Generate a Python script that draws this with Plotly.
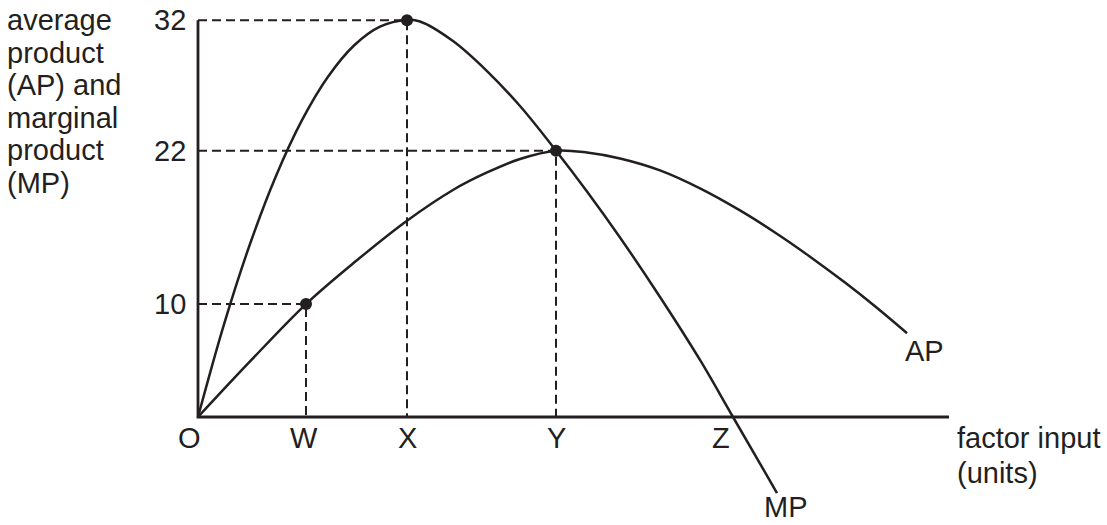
import plotly.graph_objects as go

# ---- data (chart units) ----
input_labels = ["O", "W", "X", "Y", "Z"]
input_levels = [0.0, 4.32, 8.36, 14.32, 21.4]
value_labels = ["10", "22", "32"]
value_levels = [9.11, 21.48, 32.0]

mp_x = [0.0, 1.04, 2.08, 3.12, 4.16, 5.2, 6.24, 7.28, 8.36, 8.88, 10.2, 11.56, 12.88,
        14.32, 15.56, 16.88, 18.48, 20.08, 21.4, 23.16]
mp_y = [0.0, 7.47, 13.95, 19.44, 23.94, 27.44, 29.96, 31.48, 32.02, 31.9, 30.32, 27.9, 25.08,
        21.48, 18.19, 14.48, 9.68, 4.6, 0.0, -6.13]

ap_x = [0.0, 2.08, 4.32, 6.32, 8.36, 10.2, 11.56, 12.88, 14.32, 15.56, 16.88,
        18.48, 20.08, 21.68, 23.08, 24.48, 25.88, 27.08, 28.36]
ap_y = [0.0, 4.48, 9.11, 12.58, 15.83, 18.31, 19.72, 20.81, 21.48, 21.33, 20.85,
        19.89, 18.44, 16.66, 14.88, 12.93, 10.84, 8.93, 6.76]

x_axis_end = 30.04
y_axis_end = 32.0

ink = "#231f20"
font = "Liberation Sans, Arial, Helvetica, sans-serif"
fs = 29

fig = go.Figure()

# dashed guide lines (W,10), (X,32), (Y,22)
guides = [(input_levels[1], value_levels[0]), (input_levels[2], value_levels[2]),
          (input_levels[3], value_levels[1])]
for gx, gy in guides:
    fig.add_trace(go.Scatter(x=[0, gx, gx], y=[gy, gy, 0], mode="lines",
                             line=dict(color=ink, width=2, dash="9px,5px"),
                             hoverinfo="skip", showlegend=False, cliponaxis=False))

# axes
fig.add_trace(go.Scatter(x=[0, 0, x_axis_end], y=[y_axis_end, 0, 0], mode="lines",
                         line=dict(color=ink, width=2.8), hoverinfo="skip",
                         showlegend=False, cliponaxis=False))

# curves
fig.add_trace(go.Scatter(x=mp_x, y=mp_y, mode="lines", name="MP",
                         line=dict(color=ink, width=2.5, shape="spline", smoothing=1.0),
                         showlegend=False, cliponaxis=False))
fig.add_trace(go.Scatter(x=ap_x, y=ap_y, mode="lines", name="AP",
                         line=dict(color=ink, width=2.5, shape="spline", smoothing=1.0),
                         showlegend=False, cliponaxis=False))

# points
fig.add_trace(go.Scatter(x=[g[0] for g in guides], y=[g[1] for g in guides],
                         mode="markers", marker=dict(color=ink, size=12),
                         showlegend=False, cliponaxis=False))

anns = []
# value labels on y axis
for lab, lv in zip(value_labels, value_levels):
    anns.append(dict(x=-0.4, y=lv, text=lab, xanchor="right", yanchor="middle"))
# input labels below x axis
lab_x = {"O": -0.36, "W": 4.24, "X": 8.36, "Y": 14.32, "Z": 20.92}
for lab in input_labels:
    anns.append(dict(x=lab_x[lab], y=-1.69, text=lab, xanchor="center", yanchor="middle"))
anns.append(dict(x=29.06, y=5.32, text="AP", xanchor="center", yanchor="middle"))
anns.append(dict(x=23.52, y=-7.26, text="MP", xanchor="center", yanchor="middle"))
anns.append(dict(x=30.28, y=-1.69, text="factor input", xanchor="left", yanchor="middle"))
anns.append(dict(x=30.28, y=-4.52, text="(units)", xanchor="left", yanchor="middle"))
left_lines = ["average", "product", "(AP) and", "marginal", "product", "(MP)"]
left_py = [20, 53, 85, 118, 150, 183]
for t, py in zip(left_lines, left_py):
    anns.append(dict(x=-7.72, y=(417 - py) / 12.4, text=t, xanchor="left", yanchor="middle"))

for a in anns:
    a.update(showarrow=False, font=dict(family=font, size=fs, color=ink))

fig.update_layout(
    width=1107, height=525,
    margin=dict(l=0, r=0, t=0, b=0),
    paper_bgcolor="white", plot_bgcolor="white",
    xaxis=dict(range=[-7.92, 36.36], visible=False, fixedrange=True),
    yaxis=dict(range=[-8.71, 33.63], visible=False, fixedrange=True),
    annotations=anns,
    showlegend=False,
)

fig.write_html("out.html", config={"displayModeBar": False},
               post_script="document.body.style.margin='0';")
